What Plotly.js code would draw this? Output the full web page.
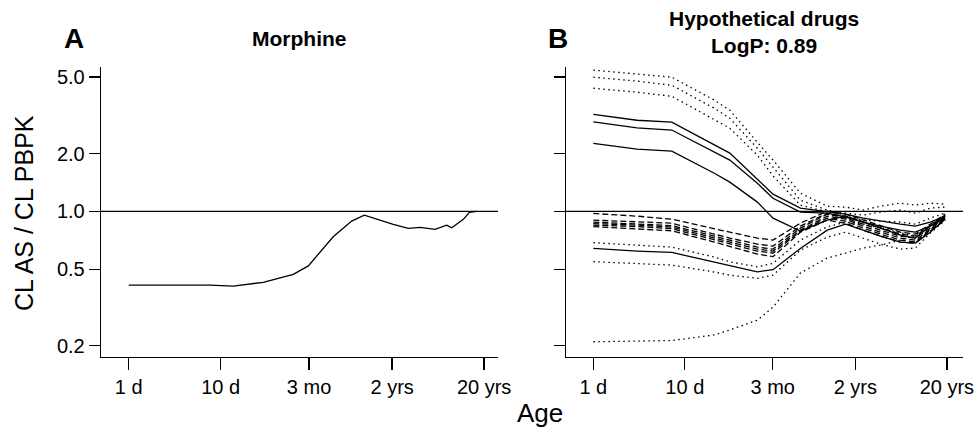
<!DOCTYPE html>
<html>
<head>
<meta charset="utf-8">
<script src="https://cdn.plot.ly/plotly-3.0.1.min.js"></script>
<style>html,body{margin:0;padding:0;background:#fff;}#chart{width:978px;height:436px;}</style>
</head>
<body>
<div id="chart"></div>
<script>
// ---------- data ----------
const tickVals = [1, 10, 91.3, 730, 7300];
const tickText = ['1 d', '10 d', '3 mo', '2 yrs', '20 yrs'];
const yTickVals = [0.2, 0.5, 1, 2, 5];
const yTickText = ['0.2', '0.5', '1.0', '2.0', '5.0'];

// Panel A: morphine
const ageA = [1, 7.65, 13.7, 29, 61.5, 89.6, 167, 265, 364, 751, 1094, 1466, 2134, 2862, 3245, 3828, 4339, 5040, 6067];
const morphine = [0.414, 0.414, 0.409, 0.428, 0.471, 0.521, 0.738, 0.891, 0.957, 0.856, 0.816, 0.826, 0.806, 0.849, 0.822, 0.873, 0.909, 0.988, 1.0];

// Panel B: hypothetical drugs (age in days)
const ageB = [1, 3, 7.2, 21, 31, 62, 92, 183, 360, 570, 890, 1370, 2270, 3300, 4800, 7000];
// dotted (upper)
const dotU1 = [5.43, 5.20, 4.99, 3.79, 3.36, 2.29, 1.85, 1.245, 1.065, 1.053, 1.016, 1.065, 1.104, 1.078, 1.104, 1.091];
const dotU2 = [4.99, 4.76, 4.53, 3.44, 3.05, 2.13, 1.70, 1.145, 1.016, 0.980, 0.957, 0.992, 1.016, 0.980, 1.040, 1.053];
const dotU3 = [4.37, 4.17, 3.97, 2.98, 2.71, 1.96, 1.53, 1.078, 0.992, 0.945, 0.901, 0.890, 0.880, 0.859, 0.923, 0.980];
// solid
const solid1 = [3.20, 2.98, 2.91, 2.21, 2.01, 1.47, 1.23, 1.040, 0.992, 0.968, 0.923, 0.890, 0.859, 0.839, 0.880, 0.945];
const solid2 = [2.92, 2.72, 2.65, 2.03, 1.85, 1.40, 1.17, 0.992, 0.980, 0.934, 0.880, 0.839, 0.799, 0.780, 0.839, 0.923];
const solid3 = [2.26, 2.11, 2.06, 1.58, 1.42, 1.118, 0.923, 0.790, 0.901, 0.945, 0.880, 0.819, 0.753, 0.727, 0.839, 0.945];
const solid4 = [0.642, 0.622, 0.612, 0.545, 0.519, 0.485, 0.498, 0.642, 0.799, 0.859, 0.799, 0.744, 0.693, 0.684, 0.780, 0.912];
// dotted (lower)
const dotL1 = [0.688, 0.668, 0.652, 0.579, 0.547, 0.515, 0.537, 0.709, 0.832, 0.880, 0.859, 0.819, 0.771, 0.744, 0.839, 0.945];
const dotL2 = [0.548, 0.535, 0.526, 0.484, 0.466, 0.449, 0.466, 0.629, 0.735, 0.780, 0.727, 0.676, 0.637, 0.645, 0.771, 0.901];
const dotL3 = [0.210, 0.212, 0.213, 0.228, 0.242, 0.272, 0.318, 0.478, 0.572, 0.607, 0.645, 0.668, 0.709, 0.753, 0.849, 0.957];
// dashed
const dash1 = [0.976, 0.945, 0.912, 0.809, 0.780, 0.727, 0.709, 0.869, 1.004, 0.968, 0.901, 0.839, 0.780, 0.762, 0.859, 0.968];
const dash2 = [0.901, 0.885, 0.869, 0.762, 0.727, 0.676, 0.660, 0.839, 0.980, 0.945, 0.880, 0.819, 0.762, 0.744, 0.839, 0.957];
const dash3 = [0.880, 0.864, 0.844, 0.744, 0.709, 0.652, 0.637, 0.819, 0.968, 0.923, 0.859, 0.799, 0.744, 0.727, 0.819, 0.934];
const dash4 = [0.864, 0.849, 0.829, 0.727, 0.693, 0.637, 0.622, 0.799, 0.945, 0.912, 0.839, 0.780, 0.727, 0.709, 0.809, 0.923];
const dash5 = [0.849, 0.834, 0.814, 0.709, 0.676, 0.622, 0.607, 0.790, 0.923, 0.890, 0.819, 0.762, 0.709, 0.693, 0.799, 0.912];
const dash6 = [0.834, 0.814, 0.793, 0.693, 0.660, 0.600, 0.582, 0.780, 0.901, 0.869, 0.799, 0.744, 0.693, 0.684, 0.790, 0.901];

// ---------- traces ----------
const FONT = 'Liberation Sans, Arial, sans-serif';
function tr(x, y, dash, xa, ya) {
  return {x: x, y: y, type: 'scatter', mode: 'lines', xaxis: xa, yaxis: ya,
    line: {color: '#000', width: 1.3, dash: dash}, hoverinfo: 'skip', showlegend: false};
}
const DOT = '1.5px,3.5px', DASH = '6px,3px';
const traces = [
  tr(ageA, morphine, 'solid', 'x', 'y'),
  tr(ageB, dotU1, DOT, 'x2', 'y2'), tr(ageB, dotU2, DOT, 'x2', 'y2'), tr(ageB, dotU3, DOT, 'x2', 'y2'),
  tr(ageB, solid1, 'solid', 'x2', 'y2'), tr(ageB, solid2, 'solid', 'x2', 'y2'),
  tr(ageB, solid3, 'solid', 'x2', 'y2'), tr(ageB, solid4, 'solid', 'x2', 'y2'),
  tr(ageB, dotL1, DOT, 'x2', 'y2'), tr(ageB, dotL2, DOT, 'x2', 'y2'), tr(ageB, dotL3, DOT, 'x2', 'y2'),
  tr(ageB, dash1, DASH, 'x2', 'y2'), tr(ageB, dash2, DASH, 'x2', 'y2'), tr(ageB, dash3, DASH, 'x2', 'y2'),
  tr(ageB, dash4, DASH, 'x2', 'y2'), tr(ageB, dash5, DASH, 'x2', 'y2'), tr(ageB, dash6, DASH, 'x2', 'y2')
];

// ---------- layout ----------
function xax(domain, range, anchor) {
  return {type: 'log', domain: domain, range: range, anchor: anchor,
    tickmode: 'array', tickvals: tickVals, ticktext: tickText,
    showline: true, linecolor: '#000', linewidth: 1.3, ticks: 'outside', ticklen: 12, tickwidth: 1.3, tickcolor: '#000',
    showgrid: false, zeroline: false, automargin: false, fixedrange: true,
    tickfont: {family: FONT, size: 20, color: '#000'}};
}
function yax(anchor, showLabels) {
  return {type: 'log', domain: [0.1812, 0.8463], range: [-0.757, 0.751], anchor: anchor,
    tickmode: 'array', tickvals: yTickVals, ticktext: yTickText, showticklabels: showLabels,
    showline: true, linecolor: '#000', linewidth: 1.3, ticks: 'outside', ticklen: 11, tickwidth: 1.3, tickcolor: '#000',
    showgrid: false, zeroline: false, automargin: false, fixedrange: true,
    tickfont: {family: FONT, size: 20, color: '#000'}};
}
const layout = {
  width: 978, height: 436,
  margin: {l: 0, r: 0, t: 0, b: 0},
  paper_bgcolor: '#fff', plot_bgcolor: '#fff',
  showlegend: false,
  xaxis: xax([0.1033, 0.5092], [-0.301, 4.014], 'y'),
  yaxis: yax('x', true),
  xaxis2: xax([0.5787, 0.9847], [-0.299, 4.04], 'y2'),
  yaxis2: yax('x2', false),
  shapes: [
    {type: 'line', xref: 'x domain', yref: 'y', x0: 0, x1: 1, y0: 1, y1: 1, line: {color: '#000', width: 1.3}},
    {type: 'line', xref: 'x2 domain', yref: 'y2', x0: 0, x1: 1, y0: 1, y1: 1, line: {color: '#000', width: 1.3}}
  ],
  annotations: [
    {text: '<b>A</b>', xref: 'paper', yref: 'paper', x: 0.0757, y: 0.9128, showarrow: false,
      xanchor: 'center', yanchor: 'middle', font: {family: FONT, size: 28, color: '#000'}},
    {text: '<b>B</b>', xref: 'paper', yref: 'paper', x: 0.5706, y: 0.9128, showarrow: false,
      xanchor: 'center', yanchor: 'middle', font: {family: FONT, size: 28, color: '#000'}},
    {text: '<b>Morphine</b>', xref: 'paper', yref: 'paper', x: 0.3062, y: 0.9106, showarrow: false,
      xanchor: 'center', yanchor: 'middle', font: {family: FONT, size: 21, color: '#000'}},
    {text: '<b>Hypothetical drugs</b><br><b>LogP: 0.89</b>', xref: 'paper', yref: 'paper', x: 0.7812, y: 0.9255, showarrow: false,
      xanchor: 'center', yanchor: 'middle', font: {family: FONT, size: 21, color: '#000'}},
    {text: 'Age', xref: 'paper', yref: 'paper', x: 0.5521, y: 0.0528, showarrow: false,
      xanchor: 'center', yanchor: 'middle', font: {family: FONT, size: 26, color: '#000'}},
    {text: 'CL AS / CL PBPK', xref: 'paper', yref: 'paper', x: 0.0245, y: 0.5115, showarrow: false, textangle: -90,
      xanchor: 'center', yanchor: 'middle', font: {family: FONT, size: 25, color: '#000'}}
  ]
};

Plotly.newPlot('chart', traces, layout, {staticPlot: true, displayModeBar: false});
</script>
</body>
</html>
